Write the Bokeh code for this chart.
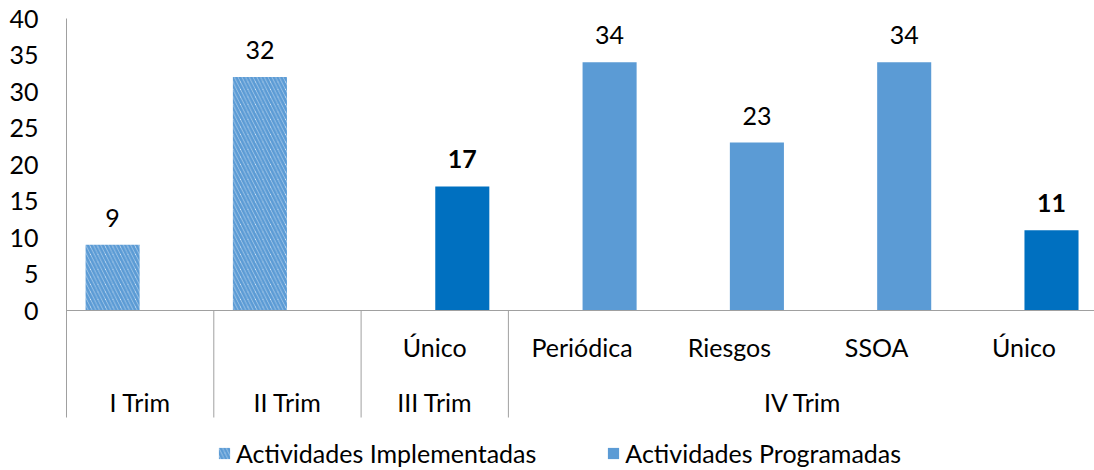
import numpy as np
from bokeh.plotting import figure
from bokeh.models import (ColumnDataSource, Range1d, LinearAxis, FixedTicker, Span,
                          Legend, LegendItem)
from bokeh.core.properties import value
from bokeh.embed import file_html
from bokeh.resources import INLINE

# ---------------- data ----------------
groups = ["I Trim", "II Trim", "III Trim", "IV Trim", "IV Trim", "IV Trim", "IV Trim"]
subcats = ["", "", "Único", "Periódica", "Riesgos", "SSOA", "Único"]
implementadas = [9, 32, None, None, None, None, None]
programadas = [None, None, 17, 34, 23, 34, 11]
y_ticks = [0, 5, 10, 15, 20, 25, 30, 35, 40]
series_names = ["Actividades Implementadas", "Actividades Programadas"]

# ---------------- style ----------------
FONT = "Lato"
FS = "25px"
GRAY = "#A0A0A0"
LIGHT = "#5B9BD5"
DARK = "#0070C0"
PX_PER_UNIT = 7.3

n = len(subcats)
centers = np.arange(n) + 0.5
offset = 0.187
bar_w = 0.367

impl_idx = [i for i, v in enumerate(implementadas) if v is not None]
prog_idx = [i for i, v in enumerate(programadas) if v is not None]

src_i = ColumnDataSource(dict(
    x=[centers[i] - offset for i in impl_idx],
    top=[implementadas[i] for i in impl_idx],
    label=[str(implementadas[i]) for i in impl_idx],
))
src_p = ColumnDataSource(dict(
    x=[centers[i] + offset for i in prog_idx],
    top=[programadas[i] for i in prog_idx],
    label=[str(programadas[i]) for i in prog_idx],
    color=[DARK if subcats[i] == "Único" else LIGHT for i in prog_idx],
    fstyle=["bold" if subcats[i] == "Único" else "normal" for i in prog_idx],
))

sep_bottom = -(107 / PX_PER_UNIT)
y_top = 40
y_bottom = y_top - 452 / PX_PER_UNIT
x_end = 1028 / 147.3

p = figure(width=1094, height=470, x_range=Range1d(0, x_end),
           y_range=Range1d(y_bottom, y_top),
           output_backend="svg", toolbar_location=None,
           x_axis_location=None, y_axis_location=None,
           min_border_left=66, min_border_right=0, min_border_top=18, min_border_bottom=0)
p.outline_line_color = None
p.grid.grid_line_color = None
p.background_fill_color = "white"

yaxis = LinearAxis(ticker=FixedTicker(ticks=y_ticks), bounds=(sep_bottom, 40),
                   major_tick_line_color=None, minor_tick_line_color=None,
                   major_tick_out=0, major_tick_in=0, minor_tick_out=0, minor_tick_in=0,
                   major_label_standoff=28, axis_line_color=GRAY, axis_line_width=1,
                   major_label_text_font=FONT, major_label_text_font_size=FS,
                   major_label_text_color="black")
p.add_layout(yaxis, "left")

# bars
r_i = p.vbar(x="x", top="top", bottom=0, width=bar_w, source=src_i,
             fill_color="white", line_color=None,
             hatch_pattern="left_diagonal_line", hatch_color=LIGHT,
             hatch_weight=3, hatch_scale=7.5)
r_p = p.vbar(x="x", top="top", bottom=0, width=bar_w, source=src_p,
             fill_color="color", line_color=None)

# value labels
p.text(x="x", y="top", text="label", source=src_i, text_align="center",
       text_baseline="middle", y_offset=-27, text_font=value(FONT),
       text_font_size=FS, text_color="black")
p.text(x="x", y="top", text="label", source=src_p, text_align="center",
       text_baseline="middle", y_offset=-27, text_font=value(FONT),
       text_font_style="fstyle", text_font_size=FS, text_color="black")

# category axis (two levels)
p.add_layout(Span(location=0, dimension="width", line_color=GRAY, line_width=1))
bounds = [i for i in range(n) if i == 0 or groups[i] != groups[i - 1]]
inner = [b for b in bounds if b > 0]
p.segment(x0=inner, y0=[0] * len(inner), x1=inner, y1=[sep_bottom] * len(inner),
          line_color=GRAY, line_width=1)
p.text(x=list(centers), y=[0] * n, text=subcats, text_align="center",
       text_baseline="middle", y_offset=36, text_font=value(FONT),
       text_font_size=FS, text_color="black")
ends = bounds[1:] + [n]
gnames = [groups[b] for b in bounds]
gcenters = [(b + e) / 2 for b, e in zip(bounds, ends)]
p.text(x=gcenters, y=[0] * len(gcenters), text=gnames, text_align="center",
       text_baseline="middle", y_offset=91, text_font=value(FONT),
       text_font_size=FS, text_color="black")

legend = Legend(items=[LegendItem(label=series_names[0], renderers=[r_i]),
                       LegendItem(label=series_names[1], renderers=[r_p], index=1)],
                location=(151, 2), orientation="horizontal",
                glyph_width=14, glyph_height=14, label_standoff=5, spacing=70,
                padding=0, margin=0, border_line_color=None, background_fill_alpha=0,
                label_text_font=FONT, label_text_font_size=FS, label_text_color="black")
p.add_layout(legend, "center")

open("out.html", "w").write(file_html(p, INLINE))
